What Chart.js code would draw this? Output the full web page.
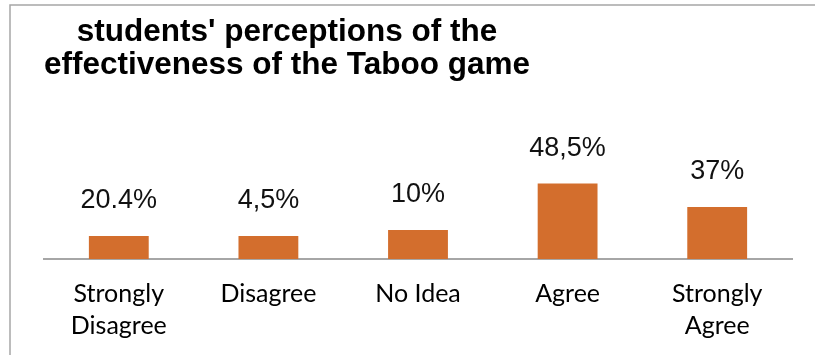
<!DOCTYPE html>
<html>
<head>
<meta charset="utf-8">
<script src="https://cdn.jsdelivr.net/npm/chart.js@4/dist/chart.umd.min.js"></script>
<style>
  html, body { margin: 0; padding: 0; background: #fff; }
  #wrap { width: 815px; height: 355px; }
</style>
</head>
<body>
<div id="wrap"><canvas id="taboo" width="815" height="355"></canvas></div>
<script>
const titleLines = ["students' perceptions of the", "effectiveness of the Taboo game"];
const categories = [['Strongly', 'Disagree'], 'Disagree', 'No Idea', 'Agree', ['Strongly', 'Agree']];
// bar heights as drawn in the picture (they do not follow the printed labels)
const barValues = [14.8, 14.8, 18.6, 48.5, 33.4];
const valueLabels = ['20.4%', '4,5%', '10%', '48,5%', '37%'];

const barColor = '#d36e2d';
const lineGray = '#a6a6a6';

// frame + title drawn by hand so the title sits left of centre like the original
const framePlugin = {
    id: 'frame',
    beforeDraw(chart) {
        const ctx = chart.ctx;
        ctx.save();
        ctx.fillStyle = '#fff';
        ctx.fillRect(0, 0, chart.width, chart.height);
        ctx.strokeStyle = lineGray;
        ctx.lineWidth = 1.5;
        ctx.beginPath();
        ctx.moveTo(10, chart.height);
        ctx.lineTo(10, 5);
        ctx.lineTo(chart.width, 5);
        ctx.stroke();
        ctx.restore();
    },
    afterDraw(chart) {
        const ctx = chart.ctx;
        ctx.save();
        ctx.fillStyle = '#000';
        ctx.font = 'bold 31.5px "Liberation Sans", Arial, sans-serif';
        ctx.textAlign = 'center';
        ctx.textBaseline = 'alphabetic';
        ctx.fillText(titleLines[0], 287, 41);
        ctx.fillText(titleLines[1], 287, 74);
        ctx.restore();
    }
};

const valueLabelPlugin = {
    id: 'valueLabels',
    afterDatasetsDraw(chart) {
        const ctx = chart.ctx;
        const meta = chart.getDatasetMeta(0);
        ctx.save();
        ctx.fillStyle = '#111';
        ctx.font = '27px "Liberation Sans", Arial, sans-serif';
        ctx.textAlign = 'center';
        ctx.textBaseline = 'middle';
        meta.data.forEach((bar, i) => {
            ctx.fillText(valueLabels[i], bar.x, bar.y - 35);
        });
        ctx.restore();
    }
};

new Chart(document.getElementById('taboo'), {
    type: 'bar',
    data: {
        labels: categories,
        datasets: [{
            data: barValues,
            backgroundColor: barColor,
            borderWidth: 0,
            barPercentage: 0.4,
            categoryPercentage: 1.0
        }]
    },
    options: {
        responsive: false,
        animation: false,
        events: [],
        layout: { padding: { top: 100, left: 44, right: 23, bottom: -6 } },
        plugins: {
            legend: { display: false },
            title: { display: false },
            tooltip: { enabled: false }
        },
        scales: {
            x: {
                grid: { display: false, drawTicks: false },
                border: { color: lineGray, width: 2 },
                ticks: {
                    color: '#000',
                    padding: 19,
                    maxRotation: 0,
                    autoSkip: false,
                    font: { family: 'Lato, "Open Sans", sans-serif', size: 25, lineHeight: 1.28 }
                }
            },
            y: {
                display: false,
                min: 0,
                max: 102
            }
        }
    },
    plugins: [framePlugin, valueLabelPlugin]
});
</script>
</body>
</html>
